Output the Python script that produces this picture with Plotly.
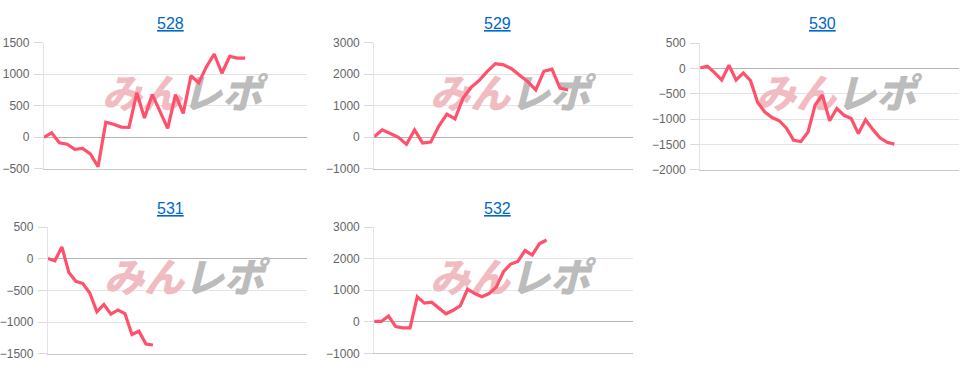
import plotly.graph_objects as go

titles = ["528", "529", "530", "531", "532"]

v528 = [0, 70, -86, -110, -190, -178, -264, -467, 240, 208, 162, 157, 705, 305, 680, 406,
        142, 675, 380, 975, 863, 1117, 1320, 1015, 1284, 1254, 1254]
v529 = [20, 235, 122, 0, -224, 235, -184, -153, 357, 734, 581, 1244, 1581, 1805, 2091, 2336,
        2295, 2173, 1969, 1765, 1500, 2091, 2162, 1561, 1500]
v530 = [13, 44, -82, -228, 63, -228, -89, -241, -671, -861, -968, -1032, -1177, -1418, -1443,
        -1253, -715, -525, -1032, -791, -924, -987, -1285, -1013, -1203, -1367, -1456, -1494]
v531 = [5, -30, 188, -218, -356, -391, -544, -838, -721, -874, -808, -864, -1194, -1143,
        -1346, -1361]
v532 = [10, 10, 183, -153, -193, -193, 793, 590, 620, 437, 254, 366, 508, 1037, 895, 793,
        895, 1098, 1586, 1830, 1912, 2258, 2115, 2471, 2593]

series = [v528, v529, v530, v531, v532]
x_len = [34, 32, 36, 37, 36]
y_ranges = [(-500, 1500, 500), (-1000, 3000, 1000), (-2000, 500, 500),
            (-1500, 500, 500), (-1000, 3000, 1000)]

W, H = 979, 382
# plot-area pixel boxes: left, right, top, bottom
boxes = [(41, 305, 37, 168), (372.3, 631.7, 37, 168), (699.3, 959, 37.5, 169),
         (45, 305, 228.5, 360), (372.3, 631.7, 228.5, 359.5)]
title_pos = [(168, 17), (496, 17), (822, 17), (168, 209), (496, 209)]

LINE = "rgb(255,80,108)"
GRID = "#e4e4e4"
FONT = "Arial, Liberation Sans, sans-serif"

fig = go.Figure()
layout = dict(width=W, height=H, margin=dict(l=0, r=0, t=0, b=0),
              paper_bgcolor="white", plot_bgcolor="white", showlegend=False)
annotations = []

for i, (vals, n, (y0, y1, dt), box) in enumerate(zip(series, x_len, y_ranges, boxes)):
    k = "" if i == 0 else str(i + 1)
    xa, ya = "x" + k, "y" + k
    l, r, t, b = box
    # watermark (behind the line)
    fig.add_trace(go.Scatter(
        x=[n * 0.525], y=[y0 + (y1 - y0) * 0.565], mode="text",
        text=["<i><span style='color:rgb(240,188,193)'>みん</span>"
              "<span style='color:rgb(188,188,188)'>レポ</span></i>"],
        textfont=dict(size=40, family="Noto Sans CJK JP", weight=900),
        xaxis=xa, yaxis=ya, hoverinfo="skip", cliponaxis=False))
    fig.add_trace(go.Scatter(
        x=list(range(len(vals))), y=vals, mode="lines",
        line=dict(color=LINE, width=3.2), xaxis=xa, yaxis=ya, hoverinfo="skip"))
    layout["xaxis" + k] = dict(
        domain=[l / W, r / W], anchor=ya, range=[0, n], showticklabels=False,
        showgrid=False, zeroline=False, showline=True, linecolor="#c8c8c8",
        linewidth=1, ticks="", fixedrange=True)
    layout["yaxis" + k] = dict(
        domain=[1 - b / H, 1 - t / H], anchor=xa, range=[y0, y1], dtick=dt,
        tick0=0, showgrid=True, gridcolor=GRID, gridwidth=1, zeroline=True,
        zerolinecolor="#b4b4b4", zerolinewidth=1, showline=True, linecolor=GRID,
        ticks="outside", ticklen=9, tickcolor="#dadada", ticklabelstandoff=2,
        tickfont=dict(size=12, color="#666", family=FONT), fixedrange=True)
    tx, ty = title_pos[i]
    annotations.append(dict(
        text="<u>" + titles[i] + "</u>", x=tx / W, y=1 - ty / H, xref="paper",
        yref="paper", xanchor="center", yanchor="middle", showarrow=False,
        font=dict(size=16, color="rgb(0,102,204)", family=FONT)))

layout["annotations"] = annotations
fig.update_layout(**layout)
fig.write_html("out.html")
